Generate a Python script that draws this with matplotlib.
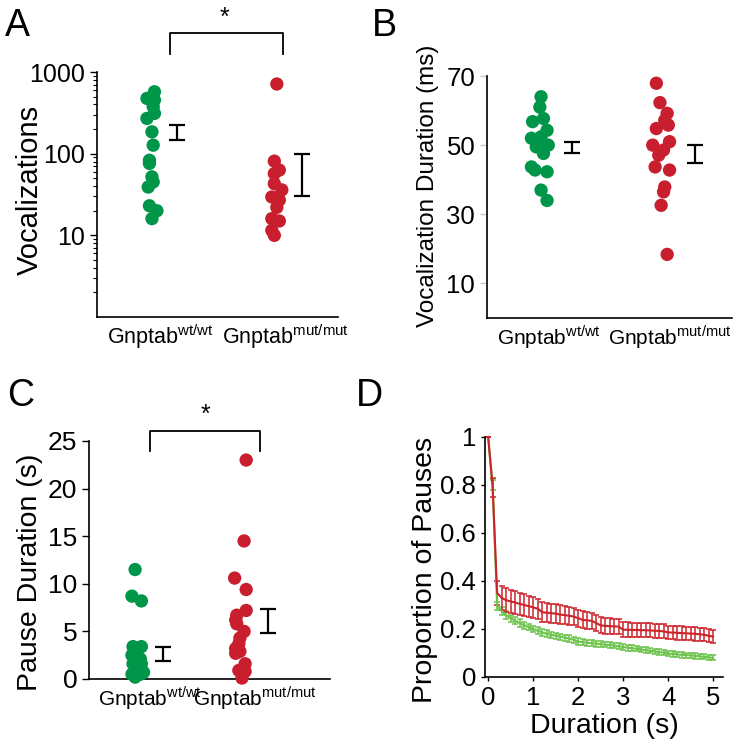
import matplotlib
matplotlib.use('Agg')
import matplotlib.pyplot as plt
from matplotlib.ticker import FixedLocator, LogLocator, NullFormatter

plt.rcParams['font.family'] = ['Liberation Sans', 'DejaVu Sans']
plt.rcParams['mathtext.fontset'] = 'custom'
plt.rcParams['mathtext.rm'] = 'Liberation Sans'

GREEN = '#00964a'
RED = '#c81e2d'
LGREEN = '#6cc24a'
DRED = '#cc2229'

groups = [r'Gnptab$^{\mathrm{wt/wt}}$', r'Gnptab$^{\mathrm{mut/mut}}$']

# A - number of vocalizations (log scale)
voc_wt = [573, 475, 453, 375, 311, 270, 185, 127, 83, 76, 52, 45, 39, 23, 20, 16]
voc_wt_x = [1.02, 0.96, 1.02, 1.01, 1.02, 0.96, 1.0, 1.01, 0.98, 0.98, 1.0, 1.01, 0.97, 0.98, 1.04, 1.0]
voc_mut = [713, 81, 63, 57, 43, 36, 29.5, 27, 22, 16, 15, 11.5, 10]
voc_mut_x = [2.0, 1.98, 2.02, 1.98, 1.98, 2.04, 1.96, 2.02, 2.0, 1.96, 2.02, 1.96, 1.98]
voc_sem = [(147, 224), (30, 100)]

# B - vocalization duration (ms)
vd_wt = [64, 61, 56.8, 57.7, 54.3, 52, 52.4, 50, 49.5, 47.6, 43.7, 42.8, 42.3, 37, 34]
vd_wt_x = [1.01, 1.0, 0.94, 1.03, 1.06, 0.93, 1.01, 1.07, 0.97, 1.03, 0.93, 0.96, 1.06, 1.01, 1.06]
vd_mut = [67.9, 62.3, 59.2, 57.2, 55.8, 54.8, 51, 50, 48.6, 47.1, 43.7, 42.8, 37.9, 36.5, 32.6, 18.4]
vd_mut_x = [1.97, 2.0, 2.06, 2.04, 2.07, 1.97, 2.08, 1.94, 2.03, 1.99, 1.96, 2.08, 2.04, 2.03, 2.01, 2.06]
vd_sem = [(47.6, 51), (44.9, 50)]

# C - pause duration (s)
pd_wt = [11.5, 8.7, 8.2, 3.4, 3.4, 3.0, 2.5, 2.1, 1.6, 1.6, 1.0, 0.5, 0.5, 0.7, 0.2]
pd_wt_x = [0.98, 0.95, 1.04, 0.96, 1.04, 1.0, 0.95, 1.03, 0.96, 1.04, 1.0, 0.95, 1.03, 1.06, 0.98]
pd_mut = [23, 14.5, 10.6, 9.4, 7.2, 6.7, 6.2, 5.8, 5.0, 4.3, 3.7, 3.2, 2.9, 2.7, 1.6, 0.9, 0.8, 0.1]
pd_mut_x = [2.04, 2.02, 1.93, 2.04, 2.04, 1.95, 1.94, 1.95, 2.02, 1.98, 1.97, 1.94, 1.98, 1.94, 2.03, 1.97, 2.03, 2.0]
pd_sem = [(1.92, 3.33), (4.86, 7.35)]

# D - proportion of pauses longer than a given duration
dur = [0.0, 0.1, 0.2, 0.3, 0.4, 0.5, 0.6, 0.7, 0.8, 0.9,
       1.0, 1.1, 1.2, 1.3, 1.4, 1.5, 1.6, 1.7, 1.8, 1.9,
       2.0, 2.1, 2.2, 2.3, 2.4, 2.5, 2.6, 2.7, 2.8, 2.9,
       3.0, 3.1, 3.2, 3.3, 3.4, 3.5, 3.6, 3.7, 3.8, 3.9,
       4.0, 4.1, 4.2, 4.3, 4.4, 4.5, 4.6, 4.7, 4.8, 4.9, 5.0]
prop_mut = [1.0, 0.79, 0.35, 0.33, 0.32, 0.315, 0.31, 0.305, 0.30, 0.295,
            0.29, 0.285, 0.27, 0.268, 0.266, 0.264, 0.26, 0.258, 0.255, 0.252,
            0.245, 0.238, 0.236, 0.234, 0.225, 0.215, 0.213, 0.212, 0.211, 0.21,
            0.197, 0.197, 0.196, 0.196, 0.195, 0.195, 0.194, 0.193, 0.192, 0.19,
            0.186, 0.185, 0.184, 0.183, 0.182, 0.181, 0.18, 0.178, 0.176, 0.172, 0.168]
prop_mut_err = [0.0, 0.04, 0.05, 0.05, 0.049, 0.048, 0.047, 0.046, 0.045, 0.044,
                0.043, 0.042, 0.041, 0.04, 0.04, 0.039, 0.038, 0.038, 0.037, 0.036,
                0.036, 0.035, 0.035, 0.034, 0.033, 0.033, 0.032, 0.032, 0.032, 0.031,
                0.031, 0.031, 0.030, 0.030, 0.030, 0.030, 0.029, 0.029, 0.029, 0.029,
                0.028, 0.028, 0.028, 0.028, 0.028, 0.028, 0.028, 0.028, 0.028, 0.028, 0.028]
prop_wt = [1.0, 0.80, 0.295, 0.275, 0.258, 0.245, 0.235, 0.225, 0.215, 0.208,
           0.20, 0.193, 0.186, 0.18, 0.176, 0.172, 0.168, 0.164, 0.16, 0.155,
           0.148, 0.145, 0.143, 0.141, 0.139, 0.137, 0.135, 0.133, 0.131, 0.128,
           0.125, 0.122, 0.12, 0.118, 0.115, 0.112, 0.109, 0.107, 0.104, 0.101,
           0.098, 0.096, 0.094, 0.092, 0.091, 0.09, 0.088, 0.086, 0.084, 0.082, 0.08]
prop_wt_err = [0.0, 0.02, 0.016, 0.016, 0.016, 0.015, 0.015, 0.015, 0.015, 0.014,
               0.014, 0.014, 0.014, 0.014, 0.013, 0.013, 0.013, 0.013, 0.013, 0.013,
               0.013, 0.013, 0.012, 0.012, 0.012, 0.012, 0.012, 0.012, 0.012, 0.012,
               0.012, 0.012, 0.012, 0.011, 0.011, 0.011, 0.011, 0.011, 0.011, 0.011,
               0.011, 0.011, 0.011, 0.011, 0.011, 0.011, 0.011, 0.011, 0.011, 0.011, 0.011]

W, H = 737, 750
fig = plt.figure(figsize=(W / 100, H / 100), dpi=100)


def px_axes(left, top, right, bottom):
    # axes placed from pixel edges of the reference
    return fig.add_axes([left / W, 1 - bottom / H, (right - left) / W, (bottom - top) / H])


def style(ax):
    ax.spines['top'].set_visible(False)
    ax.spines['right'].set_visible(False)
    ax.spines['left'].set_linewidth(1.2)
    ax.spines['bottom'].set_linewidth(1.2)


def dot_panel(ax, wt, wt_x, mut, mut_x, sem, ebx, tick_size, lab_shift, lab_size):
    style(ax)
    ax.scatter(wt_x, wt, s=92, color=GREEN, edgecolors='none', zorder=3, clip_on=False)
    ax.scatter(mut_x, mut, s=92, color=RED, edgecolors='none', zorder=3, clip_on=False)
    for x, (lo, hi) in zip(ebx, sem):
        ax.errorbar([x], [lo], yerr=[[0], [hi - lo]], fmt='none', ecolor='black',
                    elinewidth=1.6, capsize=6, capthick=1.6)
    # group labels sit a little right of the dot columns
    ax.set_xticks([1 + lab_shift, 2 + lab_shift])
    ax.set_xticklabels(groups, fontsize=lab_size)
    ax.tick_params(axis='x', length=0, pad=4)
    ax.tick_params(axis='y', labelsize=tick_size, width=1.0, length=5)


# ---------- A ----------
axA = px_axes(97, 72, 338, 317)
dot_panel(axA, voc_wt, voc_wt_x, voc_mut, voc_mut_x, voc_sem, [1.2, 2.2], 18, 0.07, 15.5)
axA.set_yscale('log')
axA.set_ylim(1, 1000)
axA.set_xlim(0.56, 2.49)
axA.yaxis.set_major_locator(FixedLocator([10, 100, 1000]))
axA.yaxis.set_major_formatter(plt.FixedFormatter(['10', '100', '1000']))
axA.yaxis.set_minor_locator(LogLocator(base=10, subs=range(2, 10)))
axA.yaxis.set_minor_formatter(NullFormatter())
axA.tick_params(axis='y', which='minor', length=3, width=0.8)
axA.plot([1.144, 1.144, 2.048, 2.048], [1665, 3015, 3015, 1665], color='black', lw=1.3, clip_on=False)
axA.text(1.584, 3300, '*', fontsize=18, ha='center', va='bottom')
fig.text(30 / W, 1 - 190 / H, 'Vocalizations', rotation=90, ha='center', va='center', fontsize=21)

# ---------- B ----------
axB = px_axes(487, 76, 732, 318)
dot_panel(axB, vd_wt, vd_wt_x, vd_mut, vd_mut_x, vd_sem, [1.27, 2.29], 18.5, 0.08, 15)
axB.set_ylim(0, 70)
axB.set_xlim(0.56, 2.6)
axB.set_yticks([10, 30, 50, 70])
axB.tick_params(axis='y', color='#c8c8c8')
fig.text(428 / W, 1 - 186 / H, 'Vocalization Duration (ms)', rotation=90, ha='center', va='center', fontsize=17.5)

# ---------- C ----------
axC = px_axes(89, 441, 330, 679)
dot_panel(axC, pd_wt, pd_wt_x, pd_mut, pd_mut_x, pd_sem, [1.25, 2.25], 19, 0.125, 15)
axC.set_ylim(0, 25)
axC.set_xlim(0.54, 2.84)
axC.set_yticks([0, 5, 10, 15, 20, 25])
axC.plot([1.12, 1.12, 2.17, 2.17], [24, 26.1, 26.1, 24], color='black', lw=1.3, clip_on=False)
axC.text(1.65, 26.5, '*', fontsize=18, ha='center', va='bottom')
fig.text(30 / W, 1 - 572 / H, 'Pause Duration (s)', rotation=90, ha='center', va='center', fontsize=20.5)

# ---------- D ----------
axD = px_axes(485, 437, 723, 677)
style(axD)
axD.errorbar(dur, prop_wt, yerr=prop_wt_err, color=LGREEN, lw=1.5, elinewidth=1.1,
             capsize=2, capthick=1.1, clip_on=False)
axD.errorbar(dur, prop_mut, yerr=prop_mut_err, color=DRED, lw=1.5, elinewidth=1.1,
             capsize=2, capthick=1.1, clip_on=False)
axD.set_xlim(-0.07, 5.22)
axD.set_ylim(0, 1)
axD.set_xticks([0, 1, 2, 3, 4, 5])
axD.set_yticks([0, 0.2, 0.4, 0.6, 0.8, 1])
axD.set_yticklabels(['0', '0.2', '0.4', '0.6', '0.8', '1'])
axD.tick_params(labelsize=18.5, length=3, width=1.0)
axD.set_xlabel('Duration (s)', fontsize=20.5, labelpad=2)
fig.text(425 / W, 1 - 570 / H, 'Proportion of Pauses', rotation=90, ha='center', va='center', fontsize=20.5)

# panel letters
for letter, x, y in [('A', 5, 8), ('B', 372, 8), ('C', 7, 378), ('D', 356, 378)]:
    fig.text(x / W, 1 - y / H, letter, fontsize=27, ha='left', va='top')

fig.savefig('out.png', dpi=100)
